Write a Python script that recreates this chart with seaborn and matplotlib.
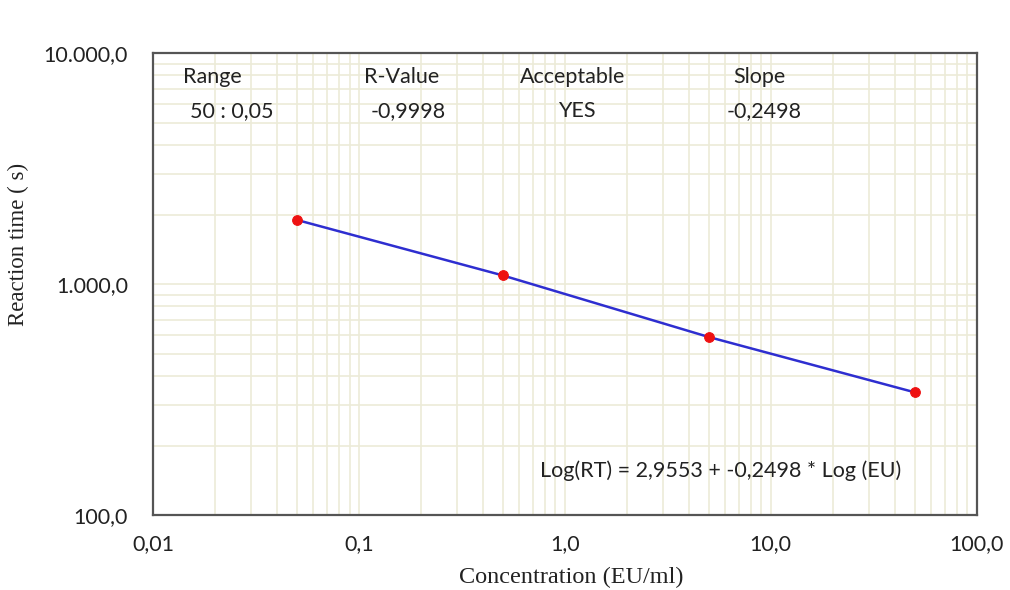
import matplotlib
matplotlib.use("Agg")
import matplotlib.pyplot as plt
import seaborn as sns
import pandas as pd
from matplotlib.ticker import FixedLocator, FixedFormatter, LogLocator, NullFormatter

# data
concentration = [0.05, 0.5, 5.0, 50.0]        # EU/ml
reaction_time = [1895, 1090, 590, 340]       # s

x_ticks = [0.01, 0.1, 1, 10, 100]
x_labels = ['0,01', '0,1', '1,0', '10,0', '100,0']
y_ticks = [100, 1000, 10000]
y_labels = ['100,0', '1.000,0', '10.000,0']

header_titles = ['Range', 'R-Value', 'Acceptable', 'Slope']
header_values = ['50 : 0,05', '-0,9998', 'YES', '-0,2498']
equation = 'Log(RT) = 2,9553 + -0,2498 * Log (EU)'

sns.set_style('white')
plt.rcParams['font.family'] = ['Lato', 'DejaVu Sans']

df = pd.DataFrame({'EU': concentration, 'RT': reaction_time})

fig = plt.figure(figsize=(10.1, 5.9), dpi=100)
ax = fig.add_axes([0.1515, 0.127, 0.8155, 0.783])

sns.lineplot(data=df, x='EU', y='RT', ax=ax, color='#2e2ed0', linewidth=1.8,
             marker='o', markersize=7, markerfacecolor='#ee1111',
             markeredgecolor='#ee1111', zorder=3)

ax.set_xscale('log')
ax.set_yscale('log')
ax.set_xlim(0.01, 100)
ax.set_ylim(100, 10000)

# beige log grid
ax.xaxis.set_minor_locator(LogLocator(base=10, subs=range(2, 10)))
ax.yaxis.set_minor_locator(LogLocator(base=10, subs=range(2, 10)))
ax.xaxis.set_minor_formatter(NullFormatter())
ax.yaxis.set_minor_formatter(NullFormatter())
ax.grid(True, which='both', color='#ecebd8', linewidth=1.2)
ax.set_axisbelow(True)

ax.xaxis.set_major_locator(FixedLocator(x_ticks))
ax.xaxis.set_major_formatter(FixedFormatter(x_labels))
ax.yaxis.set_major_locator(FixedLocator(y_ticks))
ax.yaxis.set_major_formatter(FixedFormatter(y_labels))
ax.tick_params(axis='both', which='both', length=0, labelsize=15.5, colors='#222222')
ax.tick_params(axis='x', pad=14)
ax.tick_params(axis='y', pad=18)

for s in ax.spines.values():
    s.set_color('#555555')
    s.set_linewidth(1.6)

ax.set_xlabel('Concentration (EU/ml)', family='Liberation Serif', fontsize=17.5,
              color='#222222')
ax.set_ylabel('Reaction time ( s)', family='Liberation Serif', fontsize=16.5,
              color='#222222')
ax.xaxis.set_label_coords(0.508, -0.112)
ax.yaxis.set_label_coords(-0.150, 0.585)

# header text block
title_x = [0.037, 0.256, 0.445, 0.705]
value_x = [0.045, 0.264, 0.492, 0.697]
for t, v, tx, vx in zip(header_titles, header_values, title_x, value_x):
    ax.text(tx, 0.948, t, transform=ax.transAxes, fontsize=15.5, va='center', color='#222222')
    ax.text(vx, 0.875, v, transform=ax.transAxes, fontsize=15.5, va='center', color='#222222')

ax.text(0.470, 0.095, equation, transform=ax.transAxes, fontsize=15.5, va='center',
        color='#222222')

fig.savefig('out.png', dpi=100)
